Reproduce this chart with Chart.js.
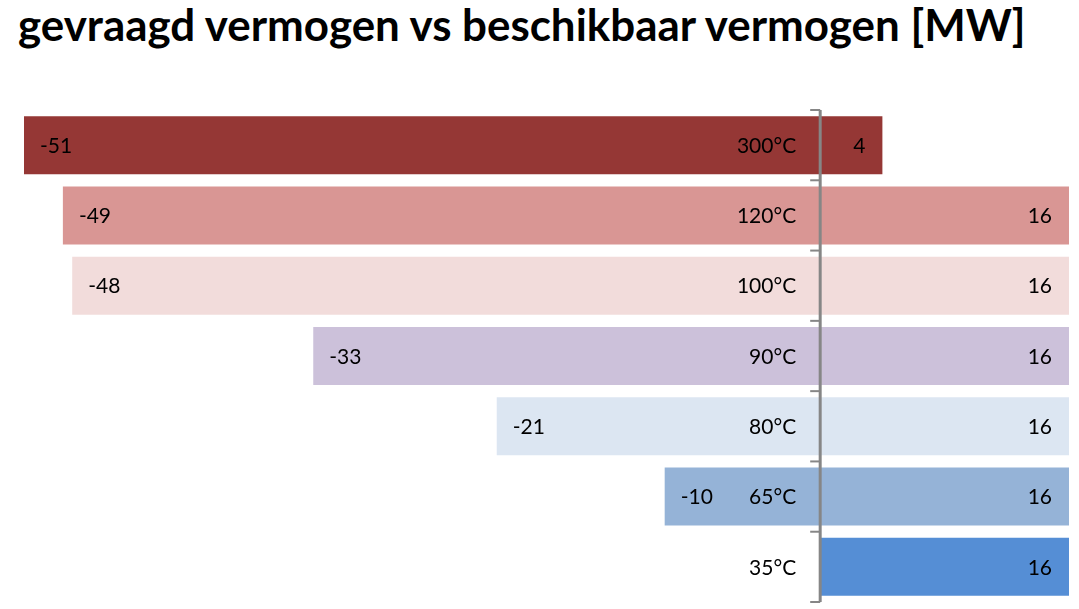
<!DOCTYPE html>
<html>
<head>
<meta charset="utf-8">
<script src="https://cdn.jsdelivr.net/npm/chart.js@4.4.1/dist/chart.umd.min.js"></script>
<style>
  html, body { margin: 0; padding: 0; background: #fff; }
  #wrap { position: relative; width: 1079px; height: 609px; }
  #titel {
    position: absolute; left: 18px; top: -2px; margin: 0;
    font-family: Lato, "Open Sans", sans-serif; font-weight: bold;
    color: #000; white-space: nowrap; font-size: 44px;
  }
  canvas { position: absolute; left: 0; top: 0; }
</style>
</head>
<body>
<div id="wrap">
  <h1 id="titel">gevraagd vermogen vs beschikbaar vermogen [MW]</h1>
  <canvas id="grafiek" width="1079" height="609"></canvas>
</div>
<script>
// temperaturen (van boven naar onder)
const temperaturen = ["300°C", "120°C", "100°C", "90°C", "80°C", "65°C", "35°C"];
// gevraagd vermogen (negatief) en beschikbaar vermogen (positief), MW
const gevraagd = [-51.2, -48.7, -48.1, -32.6, -20.8, -10.0, null];
const beschikbaar = [4, 16, 16, 16, 16, 16, 16];
const kleuren = ["#953735", "#D99694", "#F2DCDB", "#CCC1DA", "#DCE6F2", "#95B3D7", "#558ED5"];

const FONT = 'Lato, "Open Sans", sans-serif';

// titel op breedte zetten
(function () {
  const t = document.getElementById("titel");
  const w = t.getBoundingClientRect().width;
  const size = 44 * 1007 / w;
  t.style.fontSize = size.toFixed(1) + "px";
})();

const asEnLabels = {
  id: "asEnLabels",
  afterDatasetsDraw(chart) {
    const { ctx, chartArea, scales } = chart;
    const x0 = scales.x.getPixelForValue(0);
    const n = temperaturen.length;
    const stap = (chartArea.bottom - chartArea.top) / n;

    ctx.save();
    // verticale as met streepjes
    ctx.strokeStyle = "#868686";
    ctx.lineWidth = 3;
    ctx.beginPath();
    ctx.moveTo(x0, chartArea.top);
    ctx.lineTo(x0, chartArea.bottom);
    ctx.stroke();
    ctx.lineWidth = 2;
    for (let i = 0; i <= n; i++) {
      const y = chartArea.top + i * stap;
      ctx.beginPath();
      ctx.moveTo(x0 - 10, y);
      ctx.lineTo(x0, y);
      ctx.stroke();
    }

    ctx.fillStyle = "#000";
    ctx.font = "21px " + FONT;
    ctx.textBaseline = "middle";
    temperaturen.forEach((t, i) => {
      const y = scales.y.getPixelForValue(i) + 1;
      ctx.textAlign = "right";
      ctx.fillText(t, x0 - 24, y);

      const g = gevraagd[i];
      if (g != null && g !== 0) {
        ctx.textAlign = "left";
        ctx.fillText(String(Math.round(g)), scales.x.getPixelForValue(g) + 16, y);
      }
      const b = beschikbaar[i];
      if (b != null && b !== 0) {
        ctx.textAlign = "right";
        ctx.fillText(String(Math.round(b)), scales.x.getPixelForValue(b) - 17, y);
      }
    });
    ctx.restore();
  },
};

new Chart(document.getElementById("grafiek"), {
  type: "bar",
  data: {
    labels: temperaturen,
    datasets: [
      { label: "gevraagd", data: gevraagd, backgroundColor: kleuren },
      { label: "beschikbaar", data: beschikbaar, backgroundColor: kleuren },
    ],
  },
  options: {
    indexAxis: "y",
    responsive: false,
    animation: false,
    devicePixelRatio: 1,
    layout: { padding: { left: 24, right: 10, top: 110, bottom: 7 } },
    datasets: { bar: { categoryPercentage: 1, barPercentage: 0.825, borderWidth: 0 } },
    scales: {
      x: { stacked: true, min: -51.2, max: 16, display: false },
      y: { stacked: true, display: false },
    },
    plugins: {
      legend: { display: false },
      tooltip: { enabled: false },
      title: { display: false },
    },
  },
  plugins: [asEnLabels],
});
</script>
</body>
</html>
